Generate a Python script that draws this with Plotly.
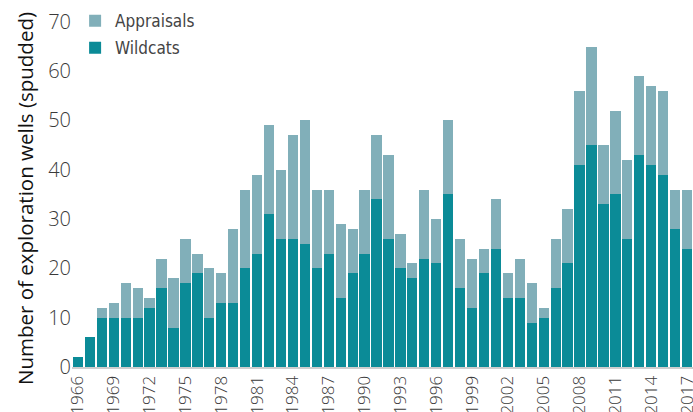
import plotly.graph_objects as go

years = list(range(1966, 2018))
wildcats = [2, 6, 10, 10, 10, 10, 12, 16, 8, 17, 19, 10, 13, 13,
            20, 23, 31, 26, 26, 25, 20, 23, 14, 19, 23, 34, 26, 20, 18, 22,
            21, 35, 16, 12, 19, 24, 14, 14, 9, 10, 16, 21, 41, 45, 33, 35,
            26, 43, 41, 39, 28, 24]
totals = [2, 6, 12, 13, 17, 16, 14, 22, 18, 26, 23, 20, 19, 28,
          36, 39, 49, 40, 47, 50, 36, 36, 29, 28, 36, 47, 43, 27, 21, 36,
          30, 50, 26, 22, 24, 34, 19, 22, 17, 12, 26, 32, 56, 65, 45, 52,
          42, 59, 57, 56, 36, 36]
appraisals = [t - w for t, w in zip(totals, wildcats)]
tick_years = list(range(1966, 2018, 3))
y_title = "Number of exploration wells (spudded)"

fig = go.Figure()
fig.add_trace(go.Bar(x=years, y=wildcats, name="Wildcats", legendgroup="w",
                     legendrank=2,
                     marker=dict(color="#0b8b97", line=dict(width=0))))
fig.add_trace(go.Bar(x=years, y=appraisals, name="Appraisals", legendgroup="a",
                     legendrank=1,
                     marker=dict(color="#81afb9", line=dict(width=0))))

fig.add_annotation(text=y_title, textangle=-90, xref="paper", yref="paper",
                   x=-0.0757, y=0.476, xanchor="center", yanchor="middle",
                   showarrow=False, font=dict(size=20.5, color="#111"))

fig.update_layout(
    width=693, height=412,
    barmode="stack", bargap=0.14,
    plot_bgcolor="white", paper_bgcolor="white",
    margin=dict(l=72, r=0, t=12, b=45),
    font=dict(family="Open Sans", color="#3a3a3a"),
    legend=dict(x=0.005, y=1.025, xanchor="left", yanchor="top",
                traceorder="grouped", bgcolor="rgba(0,0,0,0)",
                font=dict(size=17, family="DejaVu Sans Condensed", color="#444"),
                itemwidth=30, tracegroupgap=2),
    xaxis=dict(range=[1965.5, 2017.5], tickmode="array", tickvals=tick_years,
               ticktext=[str(y) for y in tick_years], tickangle=-90,
               tickfont=dict(size=17, weight=300), showgrid=False, showline=True,
               linecolor="#cfcfcf", linewidth=2, ticks="", ticklen=0,
               ticklabeloverflow="allow", automargin=False),
    yaxis=dict(range=[0, 72], tickvals=list(range(0, 80, 10)),
               tickfont=dict(size=20, weight=300), showgrid=False, zeroline=False,
               showline=False, ticks="", ticklen=0, automargin=False),
)

fig.write_html("out.html", config={"displayModeBar": False},
               post_script="document.body.style.margin='0';")
